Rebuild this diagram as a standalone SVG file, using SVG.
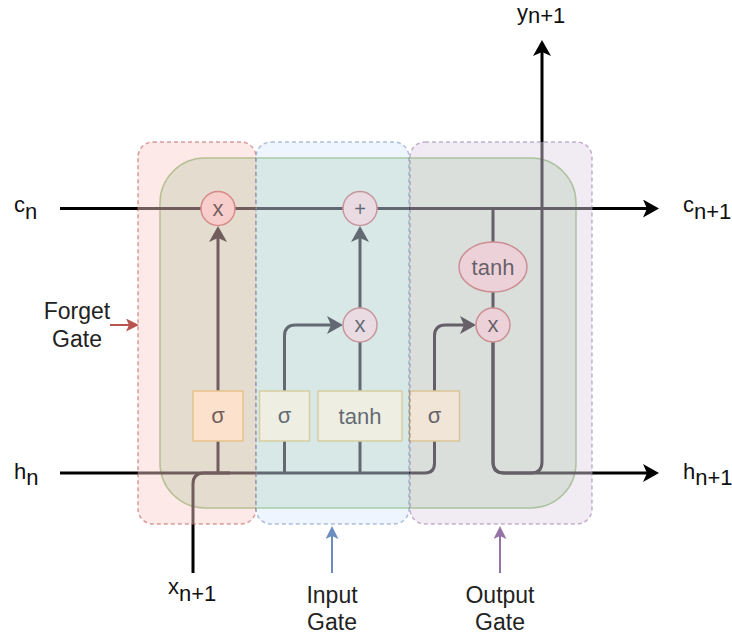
<svg xmlns="http://www.w3.org/2000/svg" width="732" height="638" viewBox="0 0 732 638">
<style>
.lbl{font-family:"Liberation Sans",Arial,sans-serif;font-size:22px;fill:#111}
.glbl{font-family:"Liberation Sans",Arial,sans-serif;font-size:23px;fill:#222;text-anchor:middle}
.ntx{font-family:"Liberation Sans",Arial,sans-serif;font-size:22px;fill:#000;text-anchor:middle}
.wire{fill:none;stroke:#000;stroke-width:3}
.circ{fill:#f8cecc;stroke:#b85450;stroke-width:1.5}
.box{fill:#fff2cc;stroke:#d6b656;stroke-width:1.5}
.gate{fill-opacity:0.45;stroke-opacity:0.55;stroke-width:1.5;stroke-dasharray:4 3}
</style>
<defs>
<marker id="ah" markerUnits="userSpaceOnUse" viewBox="0 0 16 18" markerWidth="16" markerHeight="18" refX="5" refY="9" orient="auto"><path d="M0,0 L16,9 L0,18 L4,9 Z" fill="#000"/></marker>
<marker id="ahR" markerUnits="userSpaceOnUse" viewBox="0 0 13 13" markerWidth="13" markerHeight="13" refX="4" refY="6.5" orient="auto"><path d="M0,0 L13,6.5 L0,13 L3,6.5 Z" fill="#b85450"/></marker>
<marker id="ahB" markerUnits="userSpaceOnUse" viewBox="0 0 13 13" markerWidth="13" markerHeight="13" refX="4" refY="6.5" orient="auto"><path d="M0,0 L13,6.5 L0,13 L3,6.5 Z" fill="#6c8ebf"/></marker>
<marker id="ahP" markerUnits="userSpaceOnUse" viewBox="0 0 13 13" markerWidth="13" markerHeight="13" refX="4" refY="6.5" orient="auto"><path d="M0,0 L13,6.5 L0,13 L3,6.5 Z" fill="#9673a6"/></marker>
</defs>

<g id="cell">
<rect x="160" y="158" width="416" height="350" rx="45" fill="#d5e8d4" stroke="#82b366" stroke-width="1.5"/>
</g>

<g id="connectors">
<path class="wire" d="M60,208.5 H648" marker-end="url(#ah)"/>
<path class="wire" d="M60,473 H425 Q434.5,473 434.5,463 V441"/>
<path class="wire" d="M193,573 V484 Q193,473 204,473 H230"/>
<path class="wire" d="M218,473 V441"/>
<path class="wire" d="M284.5,473 V441"/>
<path class="wire" d="M360,473 V441"/>
<path class="wire" d="M218,391 V237" marker-end="url(#ah)"/>
<path class="wire" d="M284.5,391 V336 Q284.5,325 295.5,325 H332" marker-end="url(#ah)"/>
<path class="wire" d="M360,391 V342"/>
<path class="wire" d="M360,308 V237" marker-end="url(#ah)"/>
<path class="wire" d="M434.5,391 V336 Q434.5,325 445.5,325 H465" marker-end="url(#ah)"/>
<path class="wire" d="M493,208.5 V242"/>
<path class="wire" d="M493,292 V308"/>
<path class="wire" d="M493,342 V462 Q493,473 504,473 H648" marker-end="url(#ah)"/>
<path class="wire" d="M493,342 V462 Q493,473 504,473 H531 Q542,473 542,462 V51" marker-end="url(#ah)"/>
<path d="M110,325 H130" fill="none" stroke="#b85450" stroke-width="2" marker-end="url(#ahR)"/>
<path d="M332,573 V535" fill="none" stroke="#6c8ebf" stroke-width="2" marker-end="url(#ahB)"/>
<path d="M500,573 V535" fill="none" stroke="#9673a6" stroke-width="2" marker-end="url(#ahP)"/>
</g>

<g id="forget-sigma"><rect class="box" x="193" y="391" width="50" height="50"/><text class="ntx" x="218" y="423">σ</text></g>
<g id="input-sigma"><rect class="box" x="259.5" y="391" width="50" height="50"/><text class="ntx" x="284.5" y="423">σ</text></g>
<g id="input-tanh"><rect class="box" x="318" y="391" width="84" height="50"/><text class="ntx" x="360" y="424">tanh</text></g>
<g id="output-sigma"><rect class="box" x="409.5" y="391" width="50" height="50"/><text class="ntx" x="434.5" y="423">σ</text></g>
<g id="forget-mult"><circle class="circ" cx="218" cy="208.5" r="17"/><text class="ntx" x="218" y="216">x</text></g>
<g id="cell-add"><circle class="circ" cx="360" cy="208.5" r="17"/><text class="ntx" x="360" y="216" style="font-size:20px">+</text></g>
<g id="input-mult"><circle class="circ" cx="360" cy="325" r="17"/><text class="ntx" x="360" y="332">x</text></g>
<g id="output-tanh"><ellipse class="circ" cx="493" cy="267" rx="34" ry="25"/><text class="ntx" x="493" y="275">tanh</text></g>
<g id="output-mult"><circle class="circ" cx="493" cy="325" r="17"/><text class="ntx" x="493" y="332">x</text></g>

<g id="forget-gate"><rect class="gate" x="138" y="142" width="118" height="382" rx="15" fill="#f8cecc" stroke="#b85450"/></g>
<g id="input-gate"><rect class="gate" x="256" y="142" width="153" height="382" rx="15" fill="#dae8fc" stroke="#6c8ebf"/></g>
<g id="output-gate"><rect class="gate" x="410" y="142" width="182" height="382" rx="15" fill="#e1d5e7" stroke="#9673a6"/></g>

<g id="labels">
<text class="lbl" x="14" y="212">c<tspan dy="7">n</tspan></text>
<text class="lbl" x="14" y="479">h<tspan dy="6">n</tspan></text>
<text class="lbl" x="683" y="212">c<tspan dy="7">n+1</tspan></text>
<text class="lbl" x="683" y="479">h<tspan dy="6">n+1</tspan></text>
<text class="lbl" x="517" y="20">y<tspan dy="3">n+1</tspan></text>
<text class="lbl" x="168" y="594">x<tspan dy="7">n+1</tspan></text>
<text class="glbl" x="77" y="319">Forget</text>
<text class="glbl" x="77" y="347">Gate</text>
<text class="glbl" x="332" y="603">Input</text>
<text class="glbl" x="332" y="630">Gate</text>
<text class="glbl" x="500" y="603">Output</text>
<text class="glbl" x="500" y="630">Gate</text>
</g>
</svg>
